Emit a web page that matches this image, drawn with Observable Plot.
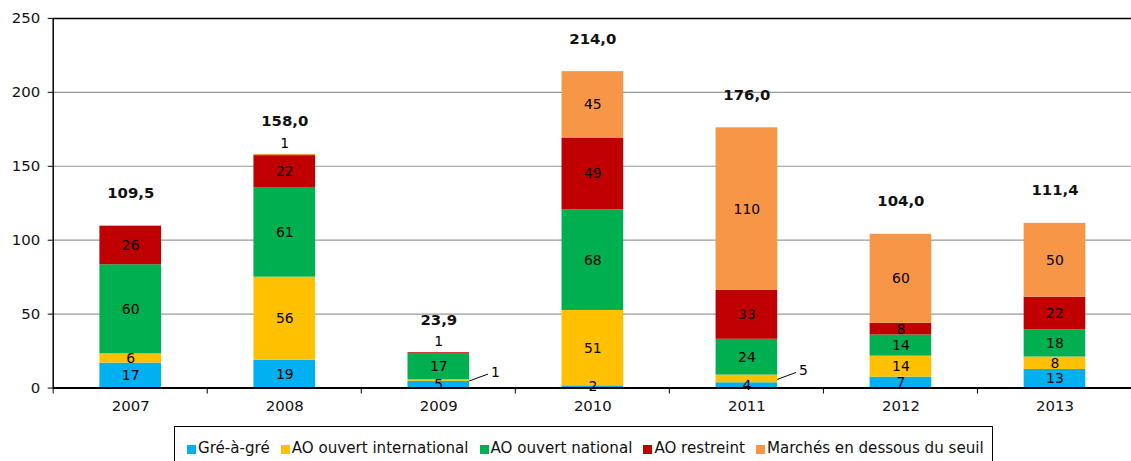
<!DOCTYPE html>
<html>
<head>
<meta charset="utf-8">
<script src="https://cdn.jsdelivr.net/npm/d3@7"></script>
<script src="https://cdn.jsdelivr.net/npm/@observablehq/plot@0.6"></script>
<style>
  html, body { margin: 0; padding: 0; background: #fff; overflow: hidden; width: 1131px; height: 461px; }
  #chart { position: absolute; left: 0; top: 0; }
  #legend {
    position: absolute; left: 174px; top: 426px; width: 819px; height: 44px;
    border: 1px solid #000; box-sizing: border-box;
    font-family: "DejaVu Sans", Verdana, sans-serif; font-size: 15.1px; color: #111;
    display: flex; align-items: flex-start; padding: 11px 0 0 12px; white-space: nowrap;
  }
  .item { display: flex; align-items: center; margin-right: 11px; line-height: 20px; }
  .sw { width: 9px; height: 9px; margin-right: 2px; margin-top: 2px; }
</style>
</head>
<body>
<div id="chart"></div>
<div id="legend"></div>
<script>
// ---- data ----
const years = ["2007", "2008", "2009", "2010", "2011", "2012", "2013"];
const seriesNames = ["Gré-à-gré", "AO ouvert international", "AO ouvert national", "AO restreint", "Marchés en dessous du seuil"];
const seriesColors = ["#00B0F0", "#FFC000", "#00B050", "#C00000", "#F79646"];
const greAGre         = [16.9, 18.8, 4.6, 1.5, 3.6, 7.4, 12.6];
const aoInternational = [6.3, 56.2, 1.0, 51.0, 5.2, 14.2, 8.4];
const aoNational      = [60.2, 60.6, 17.4, 68.0, 24.2, 14.3, 18.4];
const aoRestreint     = [26.1, 21.6, 0.9, 48.6, 33.0, 7.9, 22.1];
const sousSeuil       = [0, 0.8, 0, 44.9, 110.0, 60.2, 49.9];
const totals          = [109.5, 158.0, 23.9, 214.0, 176.0, 104.0, 111.4];
const yTicks = [0, 50, 100, 150, 200, 250];

const seriesValues = [greAGre, aoInternational, aoNational, aoRestreint, sousSeuil];

// build stacked rows
const rows = [];
years.forEach((year, i) => {
  let cum = 0;
  const lastPos = seriesValues.reduce((acc, s, j) => (s[i] > 0 ? j : acc), -1);
  seriesValues.forEach((s, j) => {
    const v = s[i];
    if (!(v > 0)) return;
    let place = "in";
    if (j > 0 && v < 6) place = (j === lastPos) ? "above" : "right";
    rows.push({year, series: seriesNames[j], value: v, y1: cum, y2: cum + v, top: 0, place});
    cum += v;
  });
  rows.filter(r => r.year === year).forEach(r => r.top = cum);
});
const totalRows = years.map((year, i) => ({year, total: totals[i], label: totals[i].toFixed(1).replace(".", ",")}));

// custom marks: category boundary ticks, leader lines, left axis line
function boundaryTicks(index, scales) {
  const g = d3.create("svg:g");
  const x = scales.x, y = scales.y;
  const step = x.step();
  const y0 = y(0);
  years.forEach((yr, i) => {
    const left = x(yr) + x.bandwidth() / 2 - step / 2;
    g.append("line").attr("x1", left).attr("x2", left).attr("y1", y0).attr("y2", y0 + 6)
      .attr("stroke", "#000").attr("stroke-width", 1);
    if (i === years.length - 1) {
      const right = left + step;
      g.append("line").attr("x1", right).attr("x2", right).attr("y1", y0).attr("y2", y0 + 6)
        .attr("stroke", "#000").attr("stroke-width", 1);
    }
  });
  // left axis line
  const xl = x(years[0]) + x.bandwidth() / 2 - step / 2;
  g.append("line").attr("x1", xl).attr("x2", xl).attr("y1", y(250)).attr("y2", y0)
    .attr("stroke", "#000").attr("stroke-width", 1.5);
  return g.node();
}
function leaderLines(index, scales) {
  const g = d3.create("svg:g");
  const x = scales.x, y = scales.y;
  rows.filter(r => r.place === "right").forEach(r => {
    const cx = x(r.year) + x.bandwidth() / 2;
    const ym = y((r.y1 + r.y2) / 2);
    g.append("line")
      .attr("x1", cx + x.bandwidth() / 2).attr("y1", ym + 1)
      .attr("x2", cx + 50).attr("y2", ym - 6)
      .attr("stroke", "#000").attr("stroke-width", 1);
  });
  return g.node();
}

const plot = Plot.plot({
  width: 1138,
  height: 420,
  marginLeft: 53,
  marginRight: 0,
  marginTop: 18,
  marginBottom: 30,
  style: {fontFamily: "DejaVu Sans, Verdana, sans-serif", fontSize: "15px", color: "#000", background: "#fff", overflow: "visible"},
  x: {type: "band", domain: years, paddingInner: 0.6, paddingOuter: 0.3, label: null},
  y: {domain: [0, 250], label: null},
  color: {domain: seriesNames, range: seriesColors},
  marks: [
    Plot.ruleY([50, 100, 150, 200], {stroke: "#999", strokeWidth: 1.2}),
    Plot.ruleY([250], {stroke: "#000", strokeWidth: 1.5}),
    Plot.barY(rows, {x: "year", y1: "y1", y2: "y2", fill: "series"}),
    Plot.text(rows.filter(r => r.place === "in"), {x: "year", y: r => (r.y1 + r.y2) / 2, text: r => String(Math.round(r.value)), fill: "#000", fontSize: 14}),
    Plot.text(rows.filter(r => r.place === "above"), {x: "year", y: "top", text: r => String(Math.round(r.value)), dy: -11, fill: "#000", fontSize: 14}),
    Plot.text(rows.filter(r => r.place === "right"), {x: "year", y: r => (r.y1 + r.y2) / 2, text: r => String(Math.round(r.value)), dx: 57, dy: -8, fill: "#000", fontSize: 14}),
    leaderLines,
    Plot.text(totalRows, {x: "year", y: "total", text: "label", dy: -33, fontWeight: "bold", fill: "#111"}),
    Plot.axisY({ticks: yTicks, tickSize: 5, tickPadding: 8, tickFormat: d => String(d), stroke: "#000", fill: "#111"}),
    Plot.axisX({tickSize: 0, tickPadding: 12, fill: "#111"}),
    boundaryTicks,
    Plot.ruleY([0], {stroke: "#000", strokeWidth: 2})
  ]
});
document.getElementById("chart").appendChild(plot);

// legend
const legend = d3.select("#legend");
seriesNames.forEach((name, j) => {
  const it = legend.append("div").attr("class", "item");
  it.append("div").attr("class", "sw").style("background", seriesColors[j]);
  it.append("span").text(name);
});
</script>
</body>
</html>
